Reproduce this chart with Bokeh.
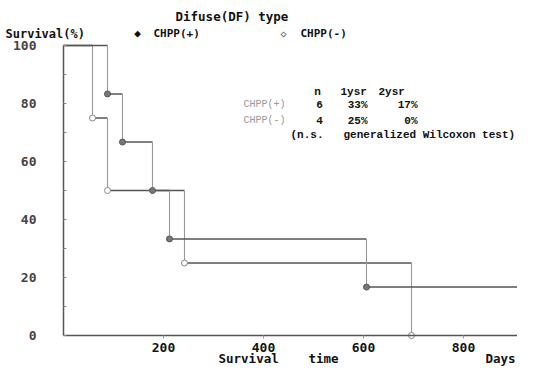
from bokeh.plotting import figure
from bokeh.models import Range1d, FixedTicker, Label, ColumnDataSource
from bokeh.embed import file_html
from bokeh.resources import INLINE

# ---- data ----
plus_days = [0, 88, 118, 178, 212, 606, 938]
plus_surv = [100, 83.3, 66.7, 50.0, 33.3, 16.7, 0]
minus_days = [0, 58, 88, 242, 696]
minus_surv = [100, 75, 50, 25, 0]

x_ticks = [200, 400, 600, 800]
y_ticks = [0, 20, 40, 60, 80, 100]
y_minor = [10, 30, 50, 70, 90]

table_groups = ["CHPP(+)", "CHPP(-)"]
table_n = ["6", "4"]
table_1yr = ["33%", "25%"]
table_2yr = ["17%", "0%"]

MONO = "DejaVu Sans Mono"
TMONO = "Liberation Mono"

# ---- layout (pixels) ----
W, H = 517, 368
X0_PX, PX_PER_DAY = 63, 0.5      # day 0 position, scale
Y0_PX, PX_PER_PCT = 335, 2.90    # 0 % position, scale

x_range = Range1d(-X0_PX / PX_PER_DAY, (W - X0_PX) / PX_PER_DAY)
y_range = Range1d(-(H - Y0_PX) / PX_PER_PCT, Y0_PX / PX_PER_PCT)

p = figure(width=W, height=H, output_backend="svg", toolbar_location=None,
           x_range=x_range, y_range=y_range,
           min_border_left=0, min_border_right=0, min_border_top=0, min_border_bottom=0)
p.outline_line_color = None
p.xgrid.visible = False
p.ygrid.visible = False
p.background_fill_color = "white"
p.border_fill_color = "white"

# axes drawn at data origin
p.xaxis.fixed_location = 0
p.xaxis.bounds = (0, x_range.end)
p.xaxis.ticker = FixedTicker(ticks=x_ticks)
p.xaxis.axis_line_color = "#555"
p.xaxis.axis_line_width = 1.5
p.xaxis.major_tick_in = 0
p.xaxis.major_tick_out = 3
p.xaxis.major_tick_line_color = "#999"
p.xaxis.minor_tick_line_color = None
p.xaxis.major_label_standoff = 4
p.xaxis.major_label_text_font = MONO
p.xaxis.major_label_text_font_style = "bold"
p.xaxis.major_label_text_font_size = "13px"
p.xaxis.major_label_text_color = "#111"

p.yaxis.fixed_location = 0
p.yaxis.bounds = (0, 100)
p.yaxis.ticker = FixedTicker(ticks=y_ticks, minor_ticks=y_minor)
p.yaxis.axis_line_color = "#555"
p.yaxis.axis_line_width = 1.5
p.yaxis.major_tick_in = 3
p.yaxis.major_tick_out = 0
p.yaxis.minor_tick_in = 3
p.yaxis.minor_tick_out = 0
p.yaxis.major_tick_line_color = "#888"
p.yaxis.minor_tick_line_color = "#888"
p.yaxis.major_label_standoff = 27
p.yaxis.major_label_text_font = MONO
p.yaxis.major_label_text_font_style = "bold"
p.yaxis.major_label_text_font_size = "13px"
p.yaxis.major_label_text_color = "#444"


def km(days, surv, fill, line):
    h = ColumnDataSource(dict(x0=days[:-1], x1=days[1:], y=surv[:-1]))
    p.segment(x0="x0", y0="y", x1="x1", y1="y", source=h, line_color="#555", line_width=1.6)
    v = ColumnDataSource(dict(x=days[1:], y0=surv[:-1], y1=surv[1:]))
    p.segment(x0="x", y0="y0", x1="x", y1="y1", source=v, line_color="#999", line_width=1.1)
    p.scatter(days[1:], surv[1:], size=6, marker="circle", fill_color=fill, line_color=line,
              line_width=1)


km(minus_days, minus_surv, "white", "#888")
km(plus_days, plus_surv, "#777", "#555")


# texts placed in pixels from the canvas top-left (px, py)
def L(text, px, py, size=12, color="#111", font=MONO, align="left", bold=True):
    p.add_layout(Label(x=px, y=H - py, x_units="screen", y_units="screen", text=text,
                       text_font=font, text_font_size=f"{size}px", text_color=color,
                       text_align=align, text_baseline="middle",
                       text_font_style="bold" if bold else "normal"))


L("Difuse(DF) type", 175, 16, size=12.5)
L("Survival(%)", 5, 33, size=12)
L("\u25c6", 137, 33, size=11, align="center")
L("CHPP(+)", 153, 33, size=11)
L("\u25c7", 283, 33, size=10, align="center", color="#666")
L("CHPP(-)", 300, 33, size=11)

# table
L("n", 317, 91, size=11, font=TMONO, align="center")
L("1ysr", 340, 91, size=11, font=TMONO)
L("2ysr", 378, 91, size=11, font=TMONO)
rows_y = [104, 120]
for g, n, a, b, ry in zip(table_groups, table_n, table_1yr, table_2yr, rows_y):
    L(g, 243, ry, size=10, font=TMONO, color="#999", bold=False)
    L(n, 319, ry, size=11, font=TMONO, align="center")
    L(a, 367, ry, size=11, font=TMONO, align="right")
    L(b, 417, ry, size=11, font=TMONO, align="right")
L("(n.s.", 290, 134, size=11, font=TMONO)
L("generalized Wilcoxon test)", 343, 134, size=11, font=TMONO)

# axis titles
L("Survival", 218, 358, size=12.5)
L("time", 308, 358, size=12.5)
L("Days", 515, 358, size=12.5, align="right")

open("out.html", "w").write(file_html(p, INLINE))
